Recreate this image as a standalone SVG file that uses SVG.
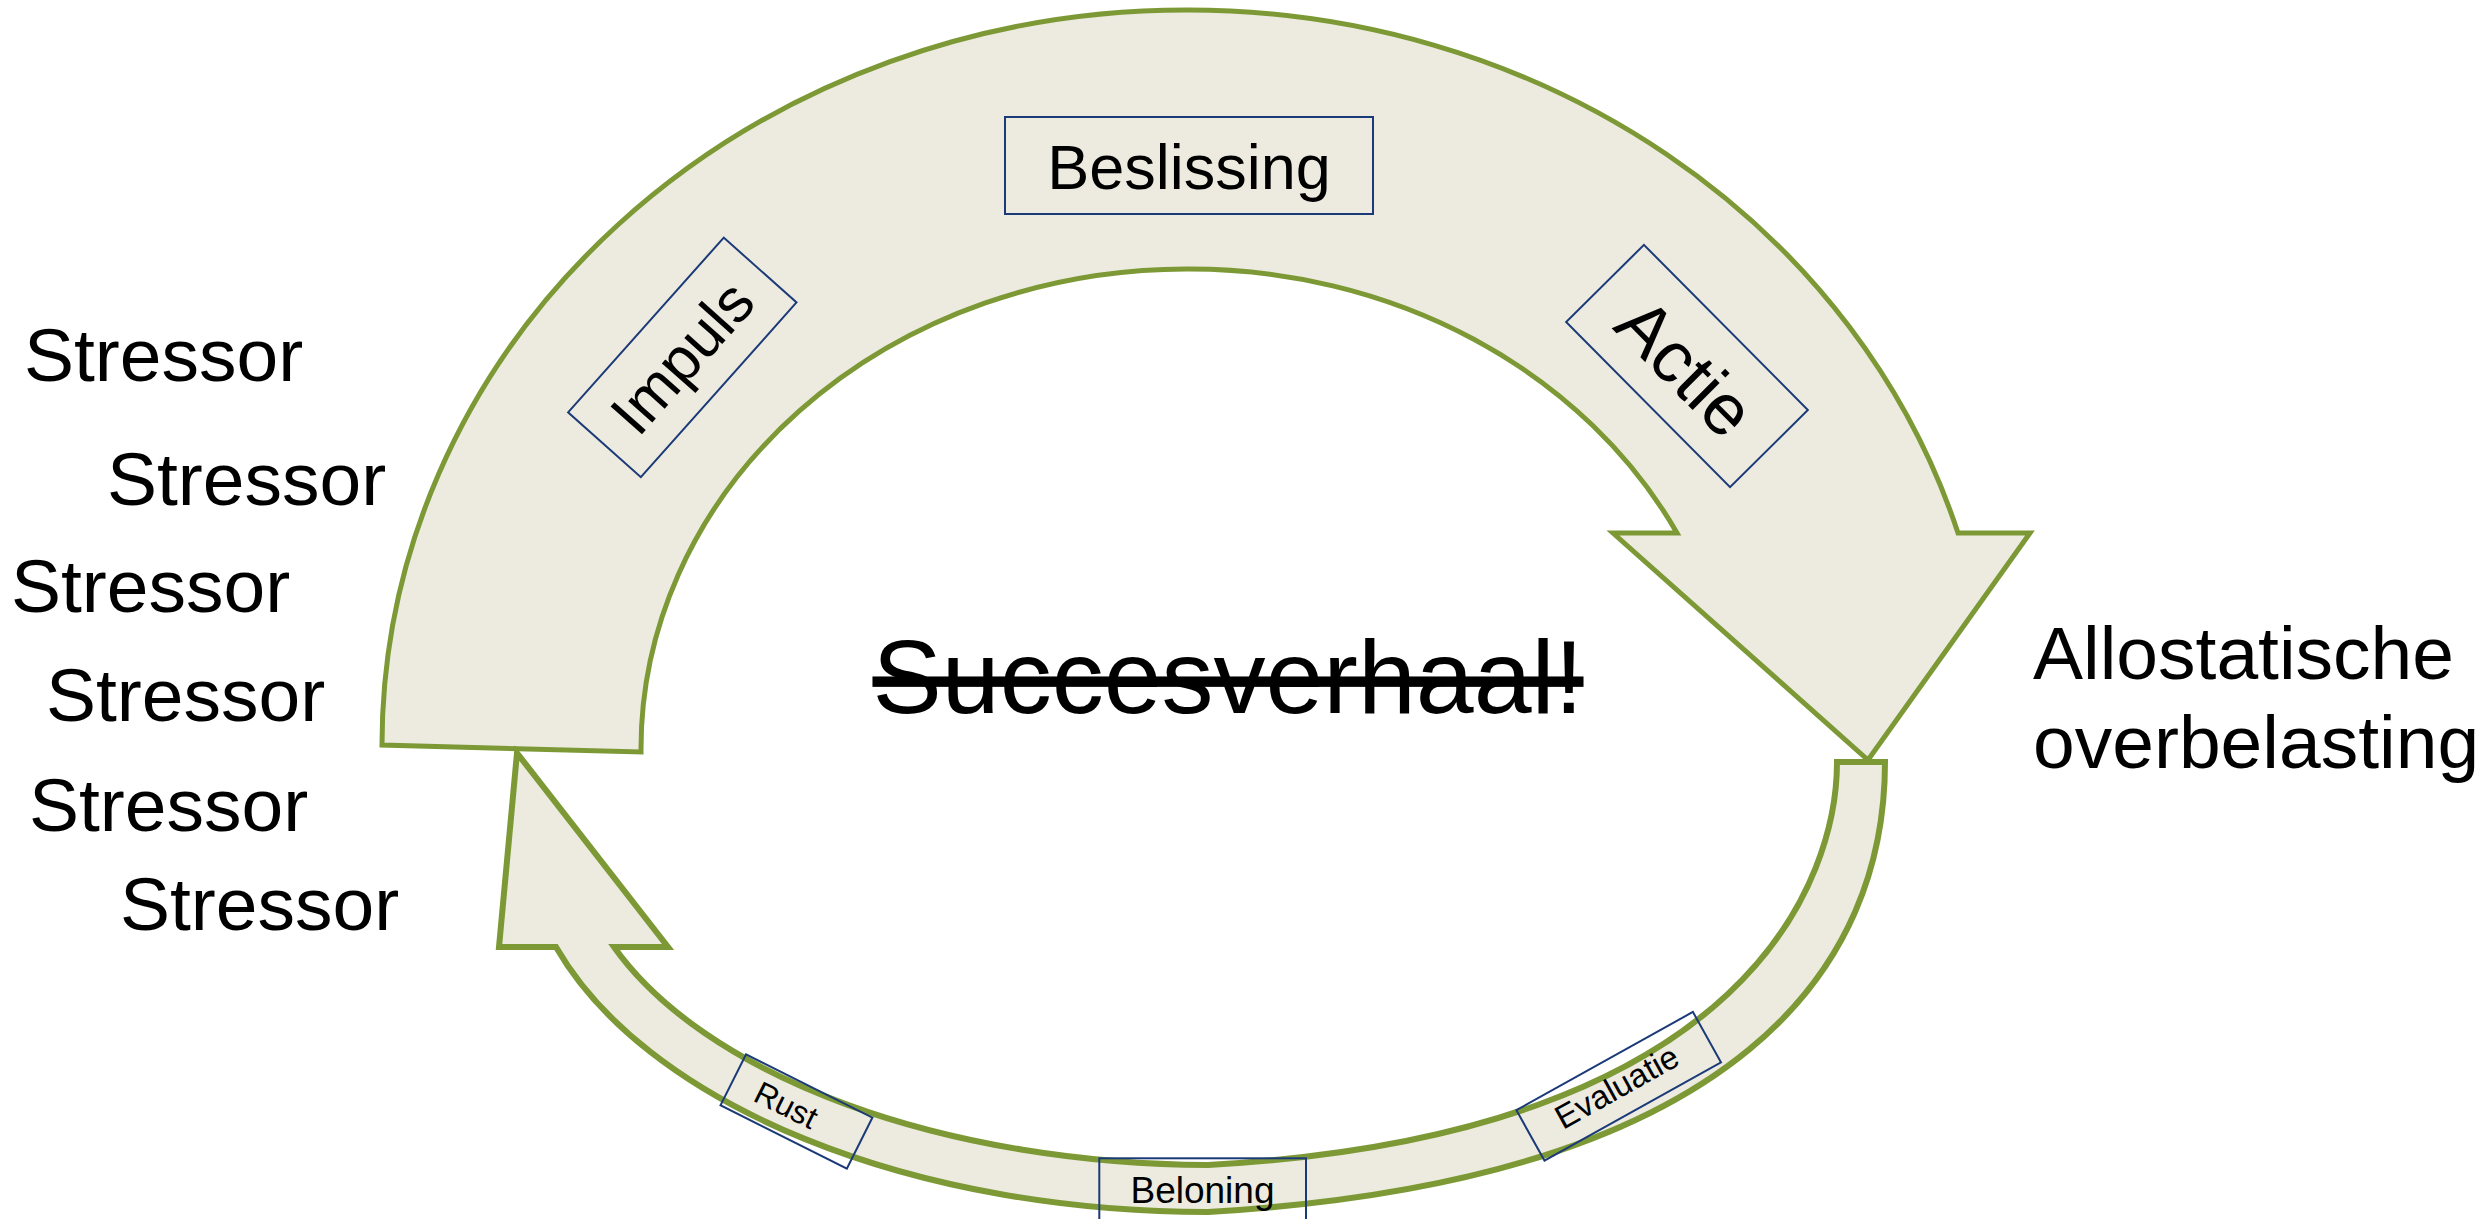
<svg xmlns="http://www.w3.org/2000/svg" width="2491" height="1219" viewBox="0 0 2491 1219">
  <style>
    .band { fill: #EDEBE0; stroke: #7D9936; stroke-width: 5; stroke-linejoin: miter; }
    .band-thin { stroke-width: 6; }
    .box { fill: none; stroke: #1B3A78; stroke-width: 2; }
    .lbl { font-family: "Liberation Sans", Arial, sans-serif; fill: #000; }
    .mid { text-anchor: middle; }
  </style>
  <rect width="2491" height="1219" fill="#FFFFFF"/>

  <!-- cycle arrows -->
  <g id="connectors">
    <!-- large upper arrow: Impuls -> Beslissing -> Actie -->
    <path id="arrow-upper" class="band"
          d="M 382,745 A 804,735 0 0 1 1186,10 A 804,735 0 0 1 1958,533 L 2030,533 L 1868,760 L 1613,533 L 1677,533 A 546,480 0 0 0 1186,269 A 546,480 0 0 0 641,752 Z"/>
    <!-- thin lower return arrow: Evaluatie -> Beloning -> Rust -->
    <path id="arrow-lower" class="band band-thin"
          d="M 1837,762 L 1885,762 C 1885,961 1748,1180 1208,1212 A 684,382 0 0 1 556,947 L 499,947 L 517,753 L 668,947 L 614,947 A 640,335 0 0 0 1208,1165 C 1756,1135 1837,873 1837,762 Z"/>
  </g>

  <g id="node-beslissing">
    <rect class="box" x="1005" y="117" width="368" height="97"/>
    <text class="lbl mid" x="1189" y="189" font-size="63">Beslissing</text>
  </g>

  <g id="node-impuls" transform="translate(682.3,357.4) rotate(-48.3)">
    <rect class="box" x="-117" y="-48.7" width="234" height="97.4"/>
    <text class="lbl mid" x="0" y="21" font-size="61">Impuls</text>
  </g>

  <g id="node-actie" transform="translate(1687,366) rotate(45.2)">
    <rect class="box" x="-116.3" y="-54.8" width="232.6" height="109.6"/>
    <text class="lbl mid" x="0" y="27" font-size="72">Actie</text>
  </g>

  <g id="node-evaluatie" transform="translate(1618.7,1086.3) rotate(-29.1)">
    <rect class="box" x="-101" y="-28.9" width="202" height="57.8"/>
    <text class="lbl mid" x="-2" y="11" font-size="33">Evaluatie</text>
  </g>

  <g id="node-beloning">
    <rect class="box" x="1099.3" y="1158.3" width="206.7" height="75"/>
    <text class="lbl mid" x="1202.5" y="1203" font-size="37">Beloning</text>
  </g>

  <g id="node-rust" transform="translate(796.4,1111.4) rotate(26.6)">
    <rect class="box" x="-70.6" y="-28.5" width="141.3" height="57"/>
    <text class="lbl mid" x="-12" y="10" font-size="32">Rust</text>
  </g>

  <g id="node-succesverhaal">
    <text class="lbl mid" x="1228" y="713" font-size="104" text-decoration="line-through">Succesverhaal!</text>
  </g>

  <g id="node-allostatische-overbelasting">
    <text class="lbl" x="2033" y="679" font-size="75">Allostatische</text>
    <text class="lbl" x="2033" y="768" font-size="75">overbelasting</text>
  </g>

  <g id="node-stressors" font-size="75">
    <text class="lbl" x="24" y="381">Stressor</text>
    <text class="lbl" x="107" y="505">Stressor</text>
    <text class="lbl" x="11" y="612">Stressor</text>
    <text class="lbl" x="46" y="721">Stressor</text>
    <text class="lbl" x="29" y="831">Stressor</text>
    <text class="lbl" x="120" y="930">Stressor</text>
  </g>
</svg>
